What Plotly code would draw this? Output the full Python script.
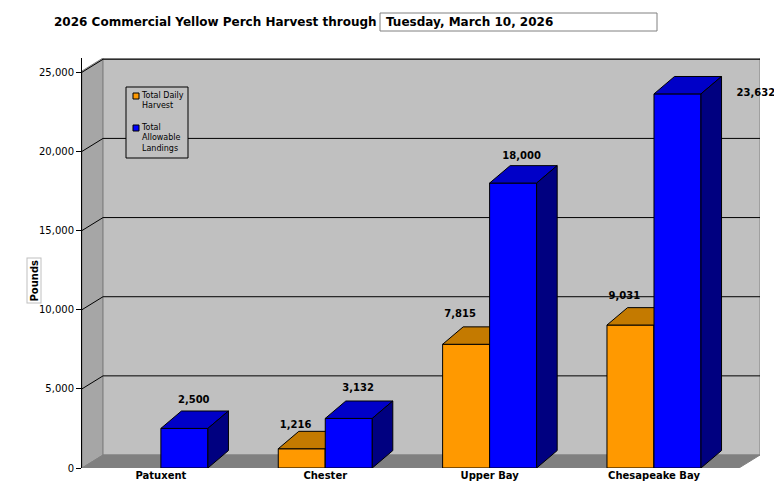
import plotly.graph_objects as go

categories = ['Patuxent', 'Chester', 'Upper Bay', 'Chesapeake Bay']
daily_harvest = [0, 1216, 7815, 9031]
allowable = [2500, 3132, 18000, 23632]
y_ticks = [0, 5000, 10000, 15000, 20000, 25000]

W = 0.286          # bar width in category units
DX, DY = 0.125, 1100   # bar depth
WX, WY = 0.128, 820    # back wall depth
X0, X1 = -0.48, 3.645
YTOP = 25900

fig = go.Figure()


def poly(xs, ys, color, line='#000000'):
    fig.add_trace(go.Scatter(x=xs + [xs[0]], y=ys + [ys[0]], fill='toself', fillcolor=color,
                             mode='lines', line=dict(color=line, width=1),
                             hoverinfo='skip', showlegend=False))


# walls and floor
poly([X0, X0 + WX, X0 + WX, X0], [0, WY, YTOP, YTOP - WY], '#a6a6a6', '#808080')
poly([X0 + WX, X1, X1, X0 + WX], [WY, WY, YTOP, YTOP], '#c0c0c0', '#808080')
for t in y_ticks[1:]:
    fig.add_trace(go.Scatter(x=[X0, X0 + WX, X1], y=[t, t + WY, t + WY], mode='lines',
                             line=dict(color='#000000', width=1), hoverinfo='skip', showlegend=False))
poly([X0, X1 - WX, X1, X0 + WX], [0, 0, WY, WY], '#808080', '#808080')


def bar3d(xl, v, front, top, side):
    if v <= 0:
        return
    xr = xl + W
    poly([xl, xr, xr, xl], [0, 0, v, v], front)
    poly([xl, xr, xr + DX, xl + DX], [v, v, v + DY, v + DY], top)
    poly([xr, xr + DX, xr + DX, xr], [0, DY, v + DY, v], side)


for i in range(len(categories)):
    bar3d(i - W, daily_harvest[i], '#ff9900', '#c47a00', '#996600')
    bar3d(i, allowable[i], '#0000ff', '#0000c8', '#000080')

# value labels
lab_x, lab_y, lab_t = [], [], []
orange_off = [0, 1450, 1900, 1830]
blue_off = [1770, 1900, 1650, 0]
blue_dx = [0.2, 0.2, 0.195, 0.62]
for i in range(len(categories)):
    if daily_harvest[i] > 0:
        lab_x.append(i - 0.18)
        lab_y.append(daily_harvest[i] + orange_off[i])
        lab_t.append(f'<b>{daily_harvest[i]:,}</b>')
    lab_x.append(i + blue_dx[i])
    lab_y.append(allowable[i] + blue_off[i])
    lab_t.append(f'<b>{allowable[i]:,}</b>')
fig.add_trace(go.Scatter(x=lab_x, y=lab_y, text=lab_t, mode='text', textposition='middle center',
                         textfont=dict(family='DejaVu Sans', size=10, color='#000000'),
                         hoverinfo='skip', showlegend=False, cliponaxis=False))

fig.update_layout(
    width=774, height=488, margin=dict(l=74, r=22, t=50, b=28),
    paper_bgcolor='white', plot_bgcolor='white',
    font=dict(family='DejaVu Sans', size=10, color='#000000'),
    xaxis=dict(range=[X0, X1], tickvals=list(range(len(categories))), ticktext=categories,
               showgrid=False, zeroline=False, showline=False, ticks='',
               tickfont=dict(family='DejaVu Sans', size=10, weight='bold')),
    yaxis=dict(range=[0, YTOP], tickvals=y_ticks, ticktext=[f'{t:,}' for t in y_ticks],
               showgrid=False, zeroline=False, showline=True, linecolor='#000000',
               ticks='outside', ticklen=5, tickcolor='#000000'),
    shapes=[
        dict(type='rect', xref='paper', yref='paper', x0=(380 - 82) / 678, x1=(657 - 82) / 678,
             y0=(468 - 31) / 410, y1=(468 - 13) / 410, line=dict(color='#808080', width=1),
             fillcolor='white'),
        dict(type='rect', xref='paper', yref='paper', x0=(126 - 82) / 678, x1=(188 - 82) / 678,
             y0=(468 - 158) / 410, y1=(468 - 87) / 410, line=dict(color='#000000', width=1),
             fillcolor='#c0c0c0'),
        dict(type='rect', xref='paper', yref='paper', x0=(133 - 82) / 678, x1=(139 - 82) / 678,
             y0=(468 - 99) / 410, y1=(468 - 93) / 410, line=dict(color='#000000', width=1),
             fillcolor='#ff9900'),
        dict(type='rect', xref='paper', yref='paper', x0=(133 - 82) / 678, x1=(139 - 82) / 678,
             y0=(468 - 131) / 410, y1=(468 - 125) / 410, line=dict(color='#000000', width=1),
             fillcolor='#0000ff'),
    ],
    annotations=[
        dict(text='<b>2026 Commercial Yellow Perch Harvest through</b>', xref='paper', yref='paper',
             x=(52 - 82) / 678, y=(468 - 22) / 410, xanchor='left', yanchor='middle',
             showarrow=False, font=dict(size=12)),
        dict(text='<b>Tuesday, March 10, 2026</b>', xref='paper', yref='paper',
             x=(384 - 82) / 678, y=(468 - 22) / 410, xanchor='left', yanchor='middle',
             showarrow=False, font=dict(size=12)),
        dict(text='Total Daily<br>Harvest', xref='paper', yref='paper',
             x=(139 - 82) / 678, y=(468 - 89) / 410, xanchor='left', yanchor='top', align='left',
             showarrow=False, font=dict(size=8)),
        dict(text='Total<br>Allowable<br>Landings', xref='paper', yref='paper',
             x=(139 - 82) / 678, y=(468 - 121) / 410, xanchor='left', yanchor='top', align='left',
             showarrow=False, font=dict(size=8)),
        dict(text='<b>Pounds</b>', xref='paper', yref='paper', x=(26 - 82) / 678,
             y=(468 - 281) / 410, textangle=-90, showarrow=False, font=dict(size=10),
             bgcolor='white', bordercolor='#c0c0c0', borderwidth=1),
    ],
)

fig.write_html('out.html')
